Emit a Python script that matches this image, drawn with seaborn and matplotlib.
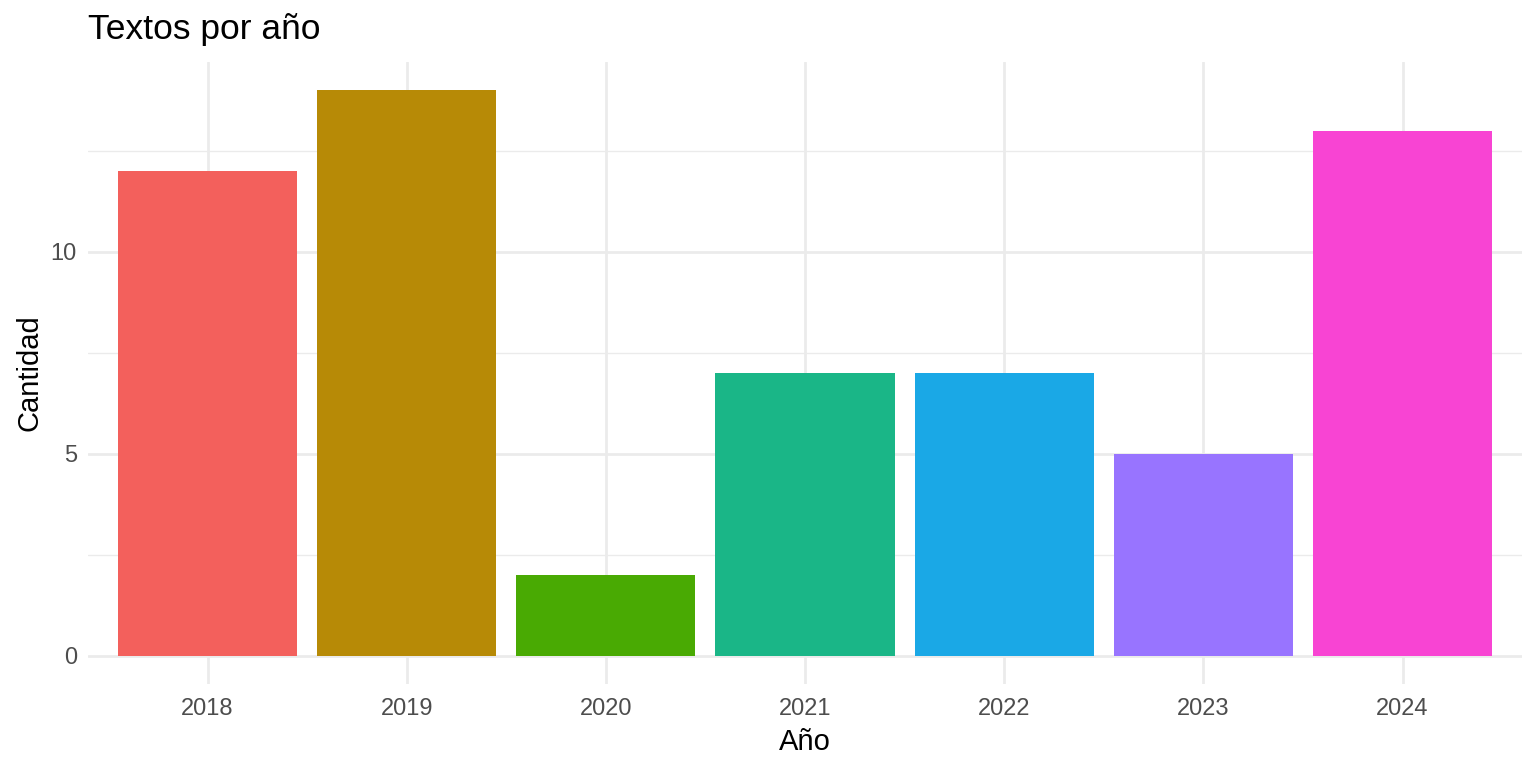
import matplotlib
matplotlib.use("Agg")
import matplotlib.pyplot as plt
import seaborn as sns
import pandas as pd
from matplotlib.ticker import MultipleLocator

years = ["2018", "2019", "2020", "2021", "2022", "2023", "2024"]
counts = [12, 14, 2, 7, 7, 5, 13]
colors = ["#F3605C", "#B78A06", "#49AA03", "#1AB687", "#1AA8E6", "#9874FF", "#F844D3"]

df = pd.DataFrame({"Año": years, "Cantidad": counts})

sns.set_theme(style="white")
plt.rcParams["font.family"] = ["Liberation Sans", "DejaVu Sans"]

fig = plt.figure(figsize=(15.36, 7.68), dpi=100)
ax = fig.add_axes([88/1536, 1-684/768, (1522-88)/1536, (684-62)/768])

sns.barplot(data=df, x="Año", y="Cantidad", hue="Año", palette=colors,
            legend=False, width=0.9, saturation=1, ax=ax, zorder=3)
for p in ax.patches:
    p.set_edgecolor("none")

ax.set_xlim(-0.6, 6.6)
ax.set_ylim(-0.7, 14.7)
ax.yaxis.set_major_locator(MultipleLocator(5))
ax.yaxis.set_minor_locator(MultipleLocator(2.5))
ax.grid(True, which="major", axis="both", color="#EBEBEB", linewidth=2.0, zorder=0)
ax.grid(True, which="minor", axis="y", color="#EBEBEB", linewidth=1.0, zorder=0)
ax.set_axisbelow(True)
for s in ax.spines.values():
    s.set_visible(False)
ax.tick_params(axis="both", which="both", length=0, labelsize=17, labelcolor="#4D4D4D")
ax.tick_params(axis="x", pad=10)
ax.tick_params(axis="y", pad=8)

ax.set_xlabel("Año", fontsize=21, color="black", labelpad=6)
ax.set_ylabel("Cantidad", fontsize=21, color="black", labelpad=5)
fig.text(88/1536, 1-30/768, "Textos por año", fontsize=25.5, ha="left", va="center", color="black")

fig.savefig("out.png", dpi=100)
